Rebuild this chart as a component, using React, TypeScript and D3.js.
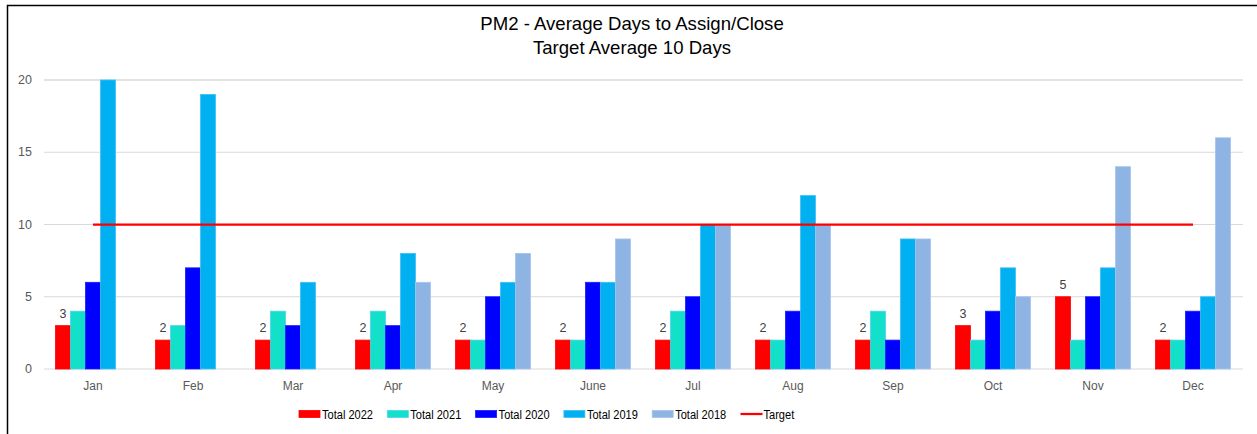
import React, { useEffect, useRef } from 'react';
import * as d3 from 'd3';

const months = ["Jan", "Feb", "Mar", "Apr", "May", "June", "Jul", "Aug", "Sep", "Oct", "Nov", "Dec"];
const seriesNames = ["Total 2022", "Total 2021", "Total 2020", "Total 2019", "Total 2018"];
const total2022 = [3, 2, 2, 2, 2, 2, 2, 2, 2, 3, 5, 2];
const total2021 = [4, 3, 4, 4, 2, 2, 4, 2, 4, 2, 2, 2];
const total2020 = [6, 7, 3, 3, 5, 6, 5, 4, 2, 4, 5, 4];
const total2019 = [20, 19, 6, 8, 6, 6, 10, 12, 9, 7, 7, 5];
const total2018 = [null, null, null, 6, 8, 9, 10, 10, 9, 5, 14, 16];
const target = [10, 10, 10, 10, 10, 10, 10, 10, 10, 10, 10, 10];
const yTicks = [0, 5, 10, 15, 20];

const colors = ["#ff0000", "#12e0c8", "#0000ff", "#00b0f0", "#8eb4e3"];
const strokes = ["#ff0000", "#4fd0f0", "#1a1aff", "#3cc0f4", "#a7c4ea"];

export default function App() {
    const chartRef = useRef<SVGSVGElement>(null);

    useEffect(() => {
        document.body.style.margin = "0";
        if (!chartRef.current) return;
        drawChart();
    }, []);

    const drawChart = () => {
        if (!chartRef.current) return;
        const width = 1257;
        const height = 434;
        const font = "'Liberation Sans', Arial, sans-serif";

        const svg = d3.select(chartRef.current);
        svg.selectAll("*").remove();

        svg.append("rect")
            .attr("width", width)
            .attr("height", height)
            .attr("fill", "#ffffff");

        // outer chart border (right/bottom edges are cut off)
        svg.append("path")
            .attr("d", `M7.5,${height + 5} L7.5,5.5 L${width + 5},5.5`)
            .attr("fill", "none")
            .attr("stroke", "#000")
            .attr("stroke-width", 1.5);

        const x0 = d3.scaleBand<string>()
            .domain(months)
            .range([43, 1243])
            .paddingInner(0.25)
            .paddingOuter(0.125);

        const x1 = d3.scaleBand<string>()
            .domain(seriesNames)
            .range([0, x0.bandwidth()]);

        const y = d3.scaleLinear()
            .domain([0, 20])
            .range([369, 80]);

        // gridlines
        svg.append("g")
            .selectAll("line")
            .data(yTicks)
            .join("line")
            .attr("x1", 44)
            .attr("x2", 1243)
            .attr("y1", d => y(d))
            .attr("y2", d => y(d))
            .attr("stroke", "#d9d9d9")
            .attr("stroke-width", d => (d === 20 ? 1.5 : 1));

        // y tick labels
        svg.append("g")
            .selectAll("text")
            .data(yTicks)
            .join("text")
            .attr("x", 32)
            .attr("y", d => y(d) + 4)
            .attr("text-anchor", "end")
            .style("font-family", font)
            .style("font-size", "12.5px")
            .style("fill", "#595959")
            .text(d => d);

        const allSeries = [total2022, total2021, total2020, total2019, total2018];

        allSeries.forEach((values, si) => {
            svg.append("g")
                .selectAll("rect")
                .data(values.map((v, i) => ({ month: months[i], v })).filter(d => d.v != null))
                .join("rect")
                .attr("x", d => (x0(d.month) as number) + (x1(seriesNames[si]) as number))
                .attr("y", d => y(d.v as number))
                .attr("width", x1.bandwidth())
                .attr("height", d => y(0) - y(d.v as number))
                .attr("fill", colors[si])
                .attr("stroke", strokes[si])
                .attr("stroke-width", 0.8);
        });

        // data labels for 2022
        svg.append("g")
            .selectAll("text")
            .data(total2022.map((v, i) => ({ month: months[i], v })))
            .join("text")
            .attr("x", d => (x0(d.month) as number) + (x1(seriesNames[0]) as number) + x1.bandwidth() / 2)
            .attr("y", d => y(d.v) - 8)
            .attr("text-anchor", "middle")
            .style("font-family", font)
            .style("font-size", "12.5px")
            .style("fill", "#404040")
            .text(d => d.v);

        // target line
        const line = d3.line<number>()
            .x((_, i) => (x0(months[i]) as number) + x0.bandwidth() / 2)
            .y(d => y(d));

        svg.append("path")
            .datum(target)
            .attr("d", line)
            .attr("fill", "none")
            .attr("stroke", "#ff0000")
            .attr("stroke-width", 2.25);

        // x labels
        svg.append("g")
            .selectAll("text")
            .data(months)
            .join("text")
            .attr("x", d => (x0(d) as number) + x0.bandwidth() / 2)
            .attr("y", 390)
            .attr("text-anchor", "middle")
            .style("font-family", font)
            .style("font-size", "12px")
            .style("fill", "#595959")
            .text(d => d);

        // title
        const title = svg.append("g")
            .attr("text-anchor", "middle")
            .style("font-family", font)
            .style("font-size", "18.6px")
            .style("fill", "#000");
        title.append("text").attr("x", 632).attr("y", 30).text("PM2 - Average Days to Assign/Close");
        title.append("text").attr("x", 632).attr("y", 54).text("Target Average 10 Days");

        // legend
        const legendItems = [...seriesNames, "Target"];
        const legend = svg.append("g")
            .attr("transform", "translate(299, 414)");

        legendItems.forEach((name, i) => {
            const g = legend.append("g").attr("transform", `translate(${i * 88.3}, 0)`);
            if (name === "Target") {
                g.append("line")
                    .attr("x1", 0).attr("x2", 22)
                    .attr("y1", 0).attr("y2", 0)
                    .attr("stroke", "#ff0000")
                    .attr("stroke-width", 2.25);
            } else {
                g.append("rect")
                    .attr("x", 0).attr("y", -3.5)
                    .attr("width", 21).attr("height", 7)
                    .attr("fill", colors[i])
                    .attr("stroke", strokes[i])
                    .attr("stroke-width", 0.8);
            }
            // narrow, Franklin-like legend text
            g.append("text")
                .attr("transform", "translate(23, 5) scale(0.82, 1)")
                .style("font-family", font)
                .style("font-size", "13.5px")
                .style("fill", "#000")
                .text(name);
        });
    };

    return (
        <svg ref={chartRef} width={1257} height={434} style={{ display: 'block' }}></svg>
    );
}
